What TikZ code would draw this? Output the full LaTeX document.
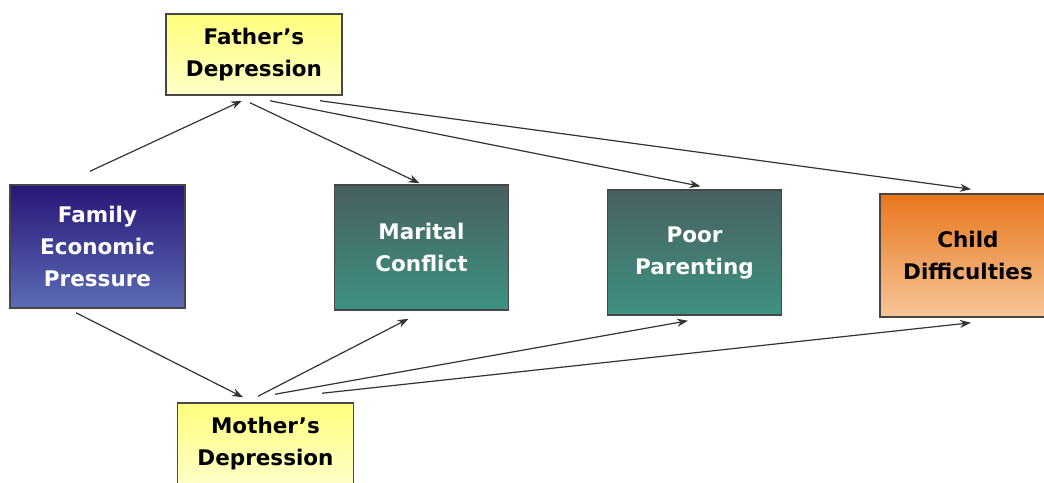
\documentclass[tikz,border=0pt]{standalone}
\usepackage{fontspec}
\setmainfont{DejaVu Sans}
\usetikzlibrary{arrows.meta}
\definecolor{navyT}{RGB}{40,22,118}
\definecolor{navyB}{RGB}{92,108,182}
\definecolor{tealT}{RGB}{72,96,96}
\definecolor{tealB}{RGB}{62,146,130}
\definecolor{orT}{RGB}{232,118,28}
\definecolor{orB}{RGB}{246,198,152}
\definecolor{yelT}{RGB}{255,255,125}
\definecolor{yelB}{RGB}{255,255,200}
\definecolor{edge}{RGB}{70,70,70}
\tikzset{
  box/.style={draw=edge, line width=1.5pt, align=center, inner sep=0pt,
    font=\fontsize{21.5}{32}\selectfont\bfseries},
  yelbox/.style={box, top color=yelT, bottom color=yelB, text=black,
    minimum width=176pt, minimum height=81pt},
  bluebox/.style={box, top color=navyT, bottom color=navyB, text=white,
    minimum width=175pt, minimum height=123pt},
  tealbox/.style={box, top color=tealT, bottom color=tealB, text=white,
    minimum width=174pt, minimum height=125pt},
  orbox/.style={box, top color=orT, bottom color=orB, text=black,
    minimum width=176pt, minimum height=123pt},
  arr/.style={draw=black!80, line width=1.2pt, -{Stealth[length=11pt,width=8pt]}}
}
\begin{document}
\begin{tikzpicture}[x=1pt,y=-1pt]
\useasboundingbox (0,0) rectangle (1044,482);
\node[yelbox] (fd) at (254,54.5) {Father's\\Depression};
\node[bluebox] (fep) at (97.5,246.5) {Family\\Economic\\Pressure};
\node[tealbox] (mc) at (421.5,247.5) {Marital\\Conflict};
\node[tealbox] (pp) at (694.5,252.5) {Poor\\Parenting};
\node[orbox] (cd) at (968,255.5) {Child\\Difficulties};
\node[yelbox] (md) at (265.5,443.5) {Mother's\\Depression};
% arrows
\draw[arr] ([xshift=-7.5pt,yshift=13pt]fep.north) -- ([xshift=-12pt,yshift=-5pt]fd.south);
\draw[arr] ([xshift=-4pt,yshift=-7pt]fd.south) -- ([xshift=-2pt,yshift=1pt]mc.north);
\draw[arr] ([xshift=16pt,yshift=-5pt]fd.south) -- ([xshift=6pt,yshift=3pt]pp.north);
\draw[arr] ([xshift=66pt,yshift=-5pt]fd.south) -- ([xshift=3pt,yshift=4pt]cd.north);
\draw[arr] ([xshift=-21.5pt,yshift=-4pt]fep.south) -- ([xshift=-22.5pt,yshift=5pt]md.north);
\draw[arr] ([xshift=-7.5pt,yshift=6pt]md.north) -- ([xshift=-13pt,yshift=-8pt]mc.south);
\draw[arr] ([xshift=9.5pt,yshift=8pt]md.north) -- ([xshift=-6.5pt,yshift=-5pt]pp.south);
\draw[arr] ([xshift=56.5pt,yshift=9pt]md.north) -- ([xshift=3pt,yshift=-5pt]cd.south);
\end{tikzpicture}
\end{document}
